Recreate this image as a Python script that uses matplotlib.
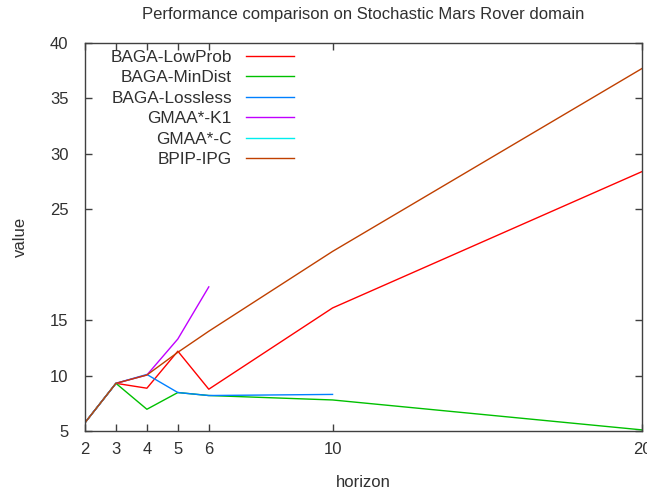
#!/usr/bin/env python3
"""
Performance comparison on the Stochastic Mars Rover domain (gnuplot look)
"""

import matplotlib
matplotlib.use("Agg")
import matplotlib.pyplot as plt

plt.rcParams['font.family'] = ['Liberation Sans', 'DejaVu Sans']

# horizons
x_full = [2, 3, 4, 5, 6, 10, 20]

lowprob = [5.75, 9.3, 8.86, 12.2, 8.77, 16.1, 28.4]
mindist = [5.75, 9.3, 6.96, 8.47, 8.2, 7.8, 5.1]

x_lossless = [2, 3, 4, 5, 6, 10]
lossless = [5.75, 9.3, 10.1, 8.47, 8.2, 8.3]

x_k1 = [2, 3, 4, 5, 6]
gmaa_k1 = [5.75, 9.3, 10.05, 13.3, 18.0]

x_c = [2, 3]
gmaa_c = [5.75, 9.3]

bpip = [5.75, 9.3, 10.05, 12.1, 14.0, 21.2, 37.7]

xticks = [2, 3, 4, 5, 6, 10, 20]
yticks = [5, 10, 15, 25, 30, 35, 40]


def main():
    fig = plt.figure(figsize=(6.47, 4.94), dpi=100)
    ax = fig.add_axes([85 / 647, 1 - 431 / 494, 557 / 647, 388 / 494])

    ax.plot(x_full, lowprob, color='#ff0000', lw=1.0, label='BAGA-LowProb')
    ax.plot(x_full, mindist, color='#00c000', lw=1.0, label='BAGA-MinDist')
    ax.plot(x_lossless, lossless, color='#0080ff', lw=1.0, label='BAGA-Lossless')
    ax.plot(x_k1, gmaa_k1, color='#c000ff', lw=1.0, label='GMAA*-K1')
    ax.plot(x_c, gmaa_c, color='#00eeee', lw=1.0, label='GMAA*-C')
    ax.plot(x_full, bpip, color='#c04000', lw=1.0, label='BPIP-IPG')

    ax.set_xlim(2, 20)
    ax.set_ylim(5, 40)
    ax.set_xticks(xticks)
    ax.set_yticks(yticks)
    ax.tick_params(direction='in', length=5, width=1, colors='#404040',
                   labelcolor='#303030', labelsize=12, top=True, right=True,
                   labeltop=False, labelright=False)
    ax.tick_params(axis='x', pad=8)
    ax.tick_params(axis='y', pad=12)
    for s in ax.spines.values():
        s.set_color('#404040')
        s.set_linewidth(1.0)

    ax.set_xlabel('horizon', fontsize=12, color='#303030', labelpad=13)
    ax.set_ylabel('value', fontsize=12, color='#303030', labelpad=16)
    ax.set_title('Performance comparison on Stochastic Mars Rover domain',
                 fontsize=12, color='#303030', pad=17)

    leg = ax.legend(loc='upper right', bbox_to_anchor=(0.375, 0.982),
                    frameon=False, markerfirst=False, fontsize=12.4,
                    handlelength=2.8, handletextpad=0.8, labelspacing=0.31,
                    borderpad=0, borderaxespad=0)
    for t in leg.get_texts():
        t.set_color('#303030')

    fig.savefig('out.png', dpi=100)
    plt.close(fig)


if __name__ == "__main__":
    main()
